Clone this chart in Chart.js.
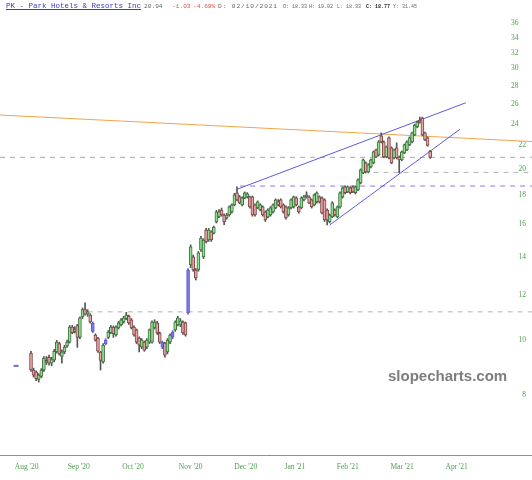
<!DOCTYPE html>
<html>
<head>
<meta charset="utf-8">
<script src="https://cdn.jsdelivr.net/npm/chart.js@4.4.1/dist/chart.umd.min.js"></script>
<style>
  body { margin: 0; background: #fff; }
  #wrap { position: relative; width: 532px; height: 480px; }
  #head span { position: absolute; top: 3px; font-family: 'Liberation Mono', monospace; font-size: 5px; line-height: 8px; color: #666; white-space: pre; }
  #head .ttl { top: 2px; font-size: 7.5px; color: #3b3bc4; text-decoration: underline; }
  #head .mid { font-size: 6.2px; }
  #head .date { font-size: 6.2px; letter-spacing: 0.9px; }
  #head .neg { color: #e24a4a; }
  #head .bold { color: #222; font-weight: bold; }
  #mark { position: absolute; left: 388px; top: 367px; font-family: 'Liberation Sans', sans-serif; font-weight: bold; font-size: 15px; color: #7e7e7e; }
</style>
</head>
<body>
<div id="wrap">
  <canvas id="chart" width="532" height="480"></canvas>
  <div id="head">
    <span class="ttl" style="left:6px">PK - Park Hotels &amp; Resorts Inc</span>
    <span class="mid" style="left:144px">20.94</span>
    <span class="mid neg" style="left:172px">-1.03</span>
    <span class="mid neg" style="left:193px">-4.69%</span>
    <span class="date" style="left:218px">D: 02/10/2021</span>
    <span style="left:283px">O: 18.33</span>
    <span style="left:309px">H: 19.02</span>
    <span style="left:337px">L: 18.33</span>
    <span class="bold" style="left:366px">C: 18.77</span>
    <span style="left:393px">Y: 31.45</span>
  </div>
  <div id="mark">slopecharts.com</div>
</div>
<script>
// Daily candles, one entry per trading day (index 0 = first candle)
const opens = [
  9.48, 8.85, 8.78, 8.52, 8.62, 8.85, 9.20, 9.32, 9.10, 9.21,
  9.52, 9.85, 9.35, 9.52, 9.75, 9.91, 10.53, 10.35, 10.60, 10.11,
  10.97, 11.30, 11.10, 11.06, 10.70, 10.20, 10.07, 9.52, 9.15, 9.85,
  10.10, 10.30, 10.53, 10.20, 10.50, 10.62, 10.75, 10.90, 11.00, 10.84,
  10.53, 10.41, 10.07, 9.71, 9.91, 9.71, 9.91, 9.91, 10.49, 10.71,
  10.28, 9.91, 9.87, 9.52, 9.91, 10.11, 10.41, 10.62, 10.62, 10.75,
  10.71, 11.15, 13.54, 13.99, 13.27, 13.27, 14.39, 13.99, 15.60, 14.98,
  15.48, 15.41, 16.12, 16.45, 16.92, 16.58, 16.38, 16.58, 16.79, 17.27,
  18.14, 17.84, 17.27, 17.77, 17.84, 17.84, 17.84, 17.27, 17.06, 16.92,
  17.13, 16.79, 16.45, 16.58, 16.79, 17.06, 17.48, 17.62, 17.27, 17.13,
  16.58, 17.06, 17.13, 17.77, 17.13, 17.06, 17.62, 17.99, 17.84, 17.62,
  17.27, 17.48, 17.84, 17.77, 17.62, 16.92, 16.12, 16.45, 16.92, 16.45,
  17.13, 17.84, 18.58, 18.21, 18.50, 18.58, 18.14, 18.35, 18.88, 19.66,
  20.47, 19.73, 20.14, 20.47, 21.58, 21.14, 22.84, 22.29, 20.97, 22.65,
  21.75, 20.89, 21.75, 20.97, 20.72, 21.32, 21.58, 22.02, 22.29, 22.93,
  23.67, 24.34, 24.54, 23.12, 22.65, 21.45
];
const highs = [
  9.55, 8.92, 8.82, 8.72, 8.90, 9.35, 9.35, 9.40, 9.32, 9.62,
  9.98, 9.90, 9.60, 9.78, 9.99, 10.60, 10.60, 10.55, 10.65, 10.98,
  11.38, 11.62, 11.30, 11.12, 10.75, 10.25, 10.10, 9.55, 9.85, 10.05,
  10.38, 10.60, 10.58, 10.58, 10.78, 10.90, 11.00, 11.18, 11.05, 10.90,
  10.58, 10.45, 10.12, 10.05, 9.95, 10.05, 10.45, 10.80, 10.85, 10.78,
  10.32, 9.95, 9.90, 10.05, 10.25, 10.38, 10.80, 11.00, 10.90, 10.80,
  10.75, 13.35, 14.69, 14.10, 13.35, 14.30, 15.20, 15.05, 15.70, 15.70,
  15.55, 15.85, 16.90, 16.95, 17.05, 16.65, 16.70, 17.20, 17.35, 18.10,
  18.58, 17.95, 17.85, 18.20, 18.15, 17.90, 17.90, 17.35, 17.55, 17.35,
  17.20, 16.85, 17.00, 17.15, 17.35, 17.70, 17.65, 17.70, 17.35, 17.20,
  17.15, 17.70, 17.90, 17.85, 17.20, 17.85, 17.95, 18.21, 17.92, 17.70,
  18.06, 18.20, 17.92, 17.85, 17.70, 17.00, 16.65, 17.50, 17.00, 17.20,
  18.20, 18.58, 18.65, 18.65, 18.58, 18.65, 18.65, 19.20, 19.98, 20.80,
  20.55, 20.40, 20.80, 21.48, 21.65, 22.40, 23.12, 22.38, 21.92, 22.75,
  21.85, 21.65, 22.20, 21.05, 21.48, 22.10, 22.38, 22.75, 23.20, 23.95,
  24.25, 24.64, 24.64, 23.20, 22.75, 21.55
];
const lows = [
  8.80, 8.60, 8.48, 8.43, 8.58, 8.80, 9.05, 9.03, 9.00, 9.15,
  9.48, 9.40, 9.10, 9.45, 9.70, 9.87, 10.25, 10.28, 9.70, 10.05,
  10.90, 11.05, 11.00, 10.70, 10.30, 9.95, 9.50, 8.85, 9.10, 9.80,
  10.05, 10.25, 10.10, 10.15, 10.45, 10.58, 10.70, 10.85, 10.65, 10.45,
  10.15, 9.85, 9.52, 9.65, 9.55, 9.65, 9.85, 9.87, 10.45, 10.22,
  9.85, 9.65, 9.32, 9.45, 9.85, 10.05, 10.35, 10.58, 10.55, 10.22,
  10.15, 11.10, 13.40, 13.20, 12.74, 13.20, 14.30, 13.90, 14.80, 14.90,
  14.90, 15.35, 16.05, 16.40, 16.50, 15.95, 16.30, 16.50, 16.70, 17.20,
  17.55, 17.35, 17.20, 17.70, 17.75, 17.05, 16.50, 16.50, 17.00, 16.85,
  16.50, 16.15, 16.38, 16.50, 16.70, 17.00, 17.20, 17.05, 16.70, 16.30,
  16.50, 17.00, 17.05, 17.20, 16.70, 17.00, 17.55, 17.75, 17.35, 17.05,
  17.20, 17.40, 17.40, 16.65, 16.15, 15.92, 16.05, 16.40, 16.50, 16.40,
  17.05, 17.75, 18.05, 18.15, 18.05, 18.15, 18.05, 18.30, 18.80, 19.60,
  19.65, 19.65, 20.05, 20.40, 20.90, 21.05, 22.20, 20.90, 20.90, 20.80,
  20.40, 20.80, 20.80, 19.66, 20.65, 21.25, 21.50, 21.95, 22.20, 22.85,
  23.60, 24.05, 22.85, 22.40, 21.90, 20.85
];
const closes = [
  8.85, 8.67, 8.55, 8.67, 8.85, 9.29, 9.14, 9.10, 9.25, 9.55,
  9.91, 9.45, 9.52, 9.71, 9.91, 10.53, 10.30, 10.45, 10.10, 10.93,
  11.30, 11.10, 11.20, 10.75, 10.35, 9.99, 9.55, 9.20, 9.79, 9.99,
  10.32, 10.53, 10.25, 10.53, 10.71, 10.84, 10.93, 11.06, 10.71, 10.49,
  10.20, 9.91, 9.79, 9.99, 9.59, 9.99, 10.41, 10.75, 10.75, 10.28,
  9.91, 9.71, 9.40, 9.99, 10.20, 10.32, 10.75, 10.93, 10.80, 10.28,
  10.20, 13.27, 14.57, 13.27, 12.85, 14.22, 15.10, 14.98, 14.87, 15.60,
  14.98, 15.79, 16.79, 16.79, 16.58, 16.12, 16.58, 17.13, 17.27, 17.99,
  17.62, 17.41, 17.77, 18.14, 18.06, 17.13, 16.58, 16.58, 17.48, 17.27,
  16.58, 16.25, 16.92, 17.06, 17.27, 17.62, 17.27, 17.13, 16.79, 16.38,
  17.06, 17.62, 17.84, 17.27, 16.79, 17.77, 17.84, 17.84, 17.41, 17.13,
  17.99, 18.14, 17.48, 16.72, 16.25, 16.25, 16.58, 17.41, 16.58, 17.13,
  18.14, 18.50, 18.14, 18.58, 18.14, 18.21, 18.58, 19.11, 19.90, 20.72,
  19.73, 20.31, 20.72, 21.40, 20.97, 22.29, 22.29, 20.97, 21.84, 20.89,
  20.47, 21.58, 20.89, 20.72, 21.40, 22.02, 22.29, 22.65, 23.12, 23.86,
  24.15, 24.15, 22.93, 22.47, 21.97, 20.94
];
// gap candles drawn in blue
const blueCandles = [24, 29, 51, 55, 61];
// lone marker before the first candle
const markerX = [-5.8];
const markerY = [9.0];

// drawn lines, as [candle index, price] end points
const upperLine = [[80, 18.4], [168.9, 26.12]];
const lowerLine = [[116, 15.92], [166.6, 23.46]];
const orangeLine = [[-12.04, 24.85], [194.56, 22.32]];
// dashed levels: [price, start index]
const lastPrice = [20.94, -12.04];
const wickLevel = [19.70, 133];
const decLevel = [18.64, 81.2];
const sepLevel = [11.20, 22];

const xTickPos = [-1.7, 18.5, 39.6, 62, 83.4, 102.5, 123, 144.1, 165.3];
const xTickLabels = ["Aug '20", "Sep '20", "Oct '20", "Nov '20", "Dec '20", "Jan '21", "Feb '21", "Mar '21", "Apr '21"];
const yTicks = [8, 10, 12, 14, 16, 18, 20, 22, 24, 26, 28, 30, 32, 34, 36];

const X_MIN = -12.04, X_MAX = 194.56;
const Y_MIN = 6.274, Y_MAX = 39.59;

const idx = closes.map((_, i) => i);
const isBlue = i => blueCandles.includes(i);
const isUp = i => closes[i] >= opens[i];
const bodyFill = idx.map(i => isBlue(i) ? '#7c7ce4' : (isUp(i) ? '#8fe08f' : '#e7a5a5'));
const bodyEdge = idx.map(i => isBlue(i) ? '#5d5dd2' : (isUp(i) ? '#3f6f3f' : '#7d4848'));
const wickColor = idx.map(i => isBlue(i) ? '#5d5dd2' : '#555');

function segment(pts, color, dash) {
  return {
    type: 'line',
    data: pts.map(p => ({ x: p[0], y: p[1] })),
    borderColor: color,
    borderWidth: 1,
    borderDash: dash || [],
    pointRadius: 0,
    pointHoverRadius: 0,
    tension: 0,
    fill: false,
    order: 3
  };
}
function level(lv, color) {
  return segment([[lv[1], lv[0]], [X_MAX, lv[0]]], color, [5, 5]);
}

// no extra room around the plot for overhanging labels
function noPad(s) {
  s.paddingLeft = 0; s.paddingRight = 0; s.paddingTop = 0; s.paddingBottom = 0;
}

const ctx = document.getElementById('chart').getContext('2d');
new Chart(ctx, {
  type: 'bar',
  data: {
    datasets: [
      {
        data: idx.map(i => ({ x: i, y: [opens[i], closes[i]] })),
        backgroundColor: bodyFill,
        borderColor: bodyEdge,
        borderWidth: 1,
        borderSkipped: false,
        barThickness: 3,
        minBarLength: 1,
        grouped: false,
        order: 0
      },
      {
        data: idx.map(i => ({ x: i, y: [lows[i], highs[i]] })),
        backgroundColor: wickColor,
        borderWidth: 0,
        barThickness: 1,
        grouped: false,
        order: 1
      },
      segment(upperLine, '#5b5be0'),
      segment(lowerLine, '#5b5be0'),
      segment(orangeLine, '#f2a54a'),
      level(lastPrice, '#a9a9a9'),
      level(wickLevel, '#b3b3b3'),
      level(decLevel, '#a070e0'),
      level(sepLevel, '#b3b3b3'),
      {
        type: 'scatter',
        data: markerX.map((x, i) => ({ x, y: markerY[i] })),
        pointStyle: 'line',
        pointRadius: 2.5,
        borderColor: '#6a6ad8',
        borderWidth: 2,
        order: 0
      }
    ]
  },
  options: {
    responsive: false,
    animation: false,
    devicePixelRatio: 1,
    layout: { padding: 0, autoPadding: false },
    plugins: { legend: { display: false }, tooltip: { enabled: false } },
    scales: {
      x: {
        type: 'linear',
        min: X_MIN,
        max: X_MAX,
        offset: false,
        grid: { display: false, drawTicks: false },
        border: { display: true, color: '#8f8f8f', width: 1 },
        afterFit: s => { s.height = 25; noPad(s); },
        afterBuildTicks: s => { s.ticks = xTickPos.map(v => ({ value: v })); },
        ticks: {
          autoSkip: false,
          maxRotation: 0,
          padding: 8,
          color: '#4f9d4f',
          font: { family: 'Liberation Serif', size: 7.5 },
          callback: (v, i) => xTickLabels[i]
        }
      },
      y: {
        type: 'logarithmic',
        position: 'right',
        min: Y_MIN,
        max: Y_MAX,
        grid: { display: false, drawTicks: false },
        border: { display: false },
        afterFit: s => { s.width = 0; noPad(s); },
        afterBuildTicks: s => { s.ticks = yTicks.map(v => ({ value: v })); },
        ticks: {
          mirror: true,
          padding: -6,
          color: '#4f9d4f',
          font: { family: 'Liberation Serif', size: 7.5 },
          callback: v => v >= 24 ? String(v) + '\u2002\u2002' : String(v)
        }
      }
    }
  }
});
</script>
</body>
</html>
